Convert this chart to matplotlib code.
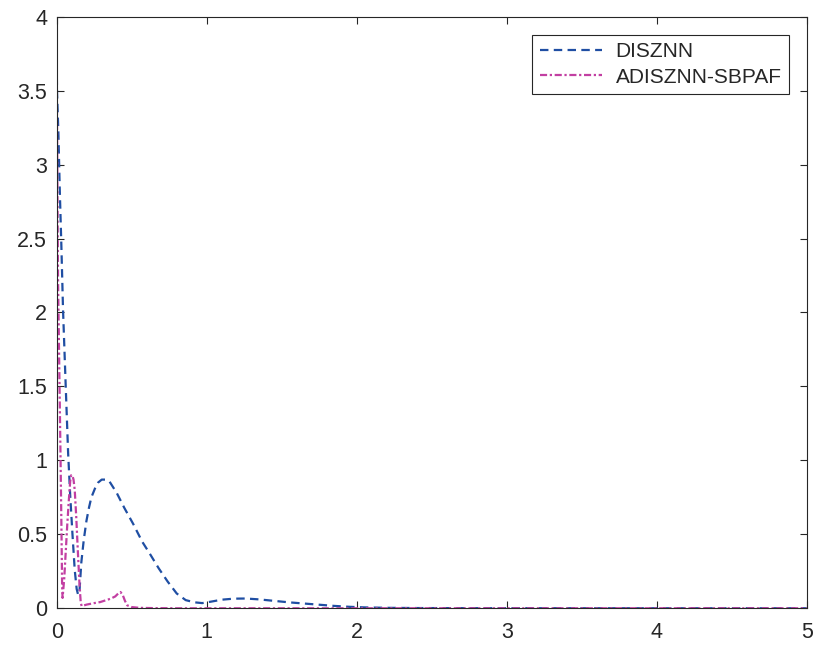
import matplotlib
matplotlib.use('Agg')
import matplotlib.pyplot as plt

# DISZNN error norm over time
disznn_t = [0, 0.002, 0.011, 0.02, 0.031, 0.042, 0.06, 0.076, 0.09, 0.105, 0.12, 0.133,
            0.143, 0.152, 0.164, 0.18, 0.198, 0.215, 0.231, 0.255, 0.276, 0.30, 0.325,
            0.35, 0.40, 0.45, 0.51, 0.57, 0.62, 0.68, 0.74, 0.80, 0.86, 0.92, 0.97,
            1.03, 1.10, 1.18, 1.26, 1.35, 1.45, 1.55, 1.65, 1.75, 1.85, 1.95, 2.05,
            2.2, 2.4, 2.7, 3.0, 3.5, 4.0, 4.5, 5.0]
disznn_err = [3.69, 3.49, 3.22, 2.84, 2.45, 2.02, 1.50, 1.05, 0.76, 0.50, 0.26, 0.13,
              0.09, 0.12, 0.31, 0.46, 0.59, 0.68, 0.75, 0.81, 0.85, 0.87, 0.87,
              0.86, 0.78, 0.68, 0.57, 0.45, 0.37, 0.27, 0.18, 0.10, 0.055, 0.04, 0.035,
              0.045, 0.058, 0.065, 0.066, 0.06, 0.05, 0.04, 0.032, 0.024, 0.016, 0.01, 0.006,
              0.003, 0.0015, 0.0008, 0.0005, 0.0003, 0.0002, 0.0001, 0.0001]

# ADISZNN-SBPAF error norm over time
adisznn_t = [0, 0.003, 0.006, 0.009, 0.013, 0.019, 0.025, 0.031, 0.036, 0.039, 0.05,
             0.06, 0.07, 0.08, 0.09, 0.097, 0.104, 0.112, 0.12, 0.13, 0.142, 0.152,
             0.16, 0.166, 0.2, 0.25, 0.29, 0.33, 0.36, 0.39, 0.41, 0.425, 0.44, 0.455,
             0.47, 0.5, 0.55, 0.65, 0.8, 1.0, 1.5, 2.0, 3.0, 4.0, 5.0]
adisznn_err = [3.58, 3.1, 2.6, 2.2, 1.92, 1.48, 1.05, 0.58, 0.15, 0.07, 0.2,
               0.38, 0.56, 0.72, 0.86, 0.90, 0.90, 0.87, 0.80, 0.62, 0.36, 0.16,
               0.04, 0.015, 0.025, 0.035, 0.042, 0.055, 0.065, 0.08, 0.1, 0.11, 0.09, 0.05,
               0.02, 0.008, 0.003, 0.001, 0, 0, 0, 0, 0, 0, 0]

xticks = [0, 1, 2, 3, 4, 5]
yticks = [0, 0.5, 1, 1.5, 2, 2.5, 3, 3.5, 4]
ytick_labels = ['0', '0.5', '1', '1.5', '2', '2.5', '3', '3.5', '4']

plt.rcParams['font.family'] = ['Liberation Sans', 'DejaVu Sans']
axis_color = '#262626'

fig = plt.figure(figsize=(8.15, 6.46), dpi=100)
ax = fig.add_axes([0.0696, 0.0584, 0.9202, 0.9158])

ax.plot(disznn_t, disznn_err, color='#1f4ea3', linestyle=(0, (3.8, 2.4)),
        linewidth=1.6, label='DISZNN')
ax.plot(adisznn_t, adisznn_err, color='#c23fa2', linestyle=(0, (3.2, 1.2, 1, 1.2)),
        linewidth=1.6, label='ADISZNN-SBPAF')

ax.set_xlim(0, 5)
ax.set_ylim(0, 4)
ax.set_xticks(xticks)
ax.set_xticklabels([str(t) for t in xticks])
ax.set_yticks(yticks)
ax.set_yticklabels(ytick_labels)

for side in ['left', 'right', 'top', 'bottom']:
    ax.spines[side].set_color(axis_color)
    ax.spines[side].set_linewidth(0.8)

ax.tick_params(axis='both', which='both', direction='in', length=5, width=0.8,
               colors=axis_color, labelsize=15.5, top=True, right=True)
ax.tick_params(axis='x', pad=10)
ax.tick_params(axis='y', pad=7)

leg = ax.legend(loc='upper right', bbox_to_anchor=(0.9764, 0.969), borderaxespad=0,
                fontsize=15, handlelength=3.0, handletextpad=0.65, labelspacing=0.3,
                borderpad=0.35, fancybox=False, framealpha=1)
leg.get_frame().set_edgecolor(axis_color)
leg.get_frame().set_linewidth(0.8)
for txt in leg.get_texts():
    txt.set_color(axis_color)

fig.savefig('out.png', dpi=100)
plt.close(fig)
